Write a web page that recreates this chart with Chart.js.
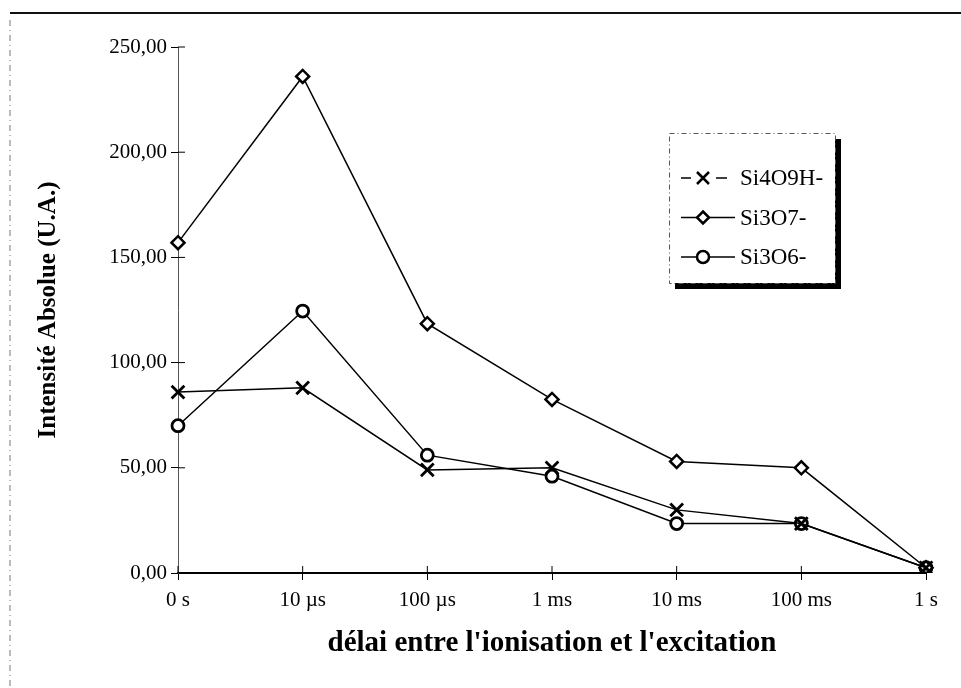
<!DOCTYPE html>
<html>
<head>
<meta charset="utf-8">
<script src="https://cdn.jsdelivr.net/npm/chart.js@4"></script>
<style>
  html, body { margin: 0; padding: 0; background: #fff; }
  #wrap { width: 961px; height: 688px; position: relative; }
</style>
</head>
<body>
<div id="wrap"><canvas id="delayChart" width="961" height="688"></canvas></div>
<script>
// values
var categories = ['0 s', '10 µs', '100 µs', '1 ms', '10 ms', '100 ms', '1 s'];
var si4o9h = [86, 88, 49, 50, 30, 23.5, 2.5];
var si3o7 = [157, 236, 118.5, 82.5, 53, 50, 2.5];
var si3o6 = [70, 124.5, 56, 46, 23.5, 23.5, 2.5];
var seriesNames = ['Si4O9H-', 'Si3O7-', 'Si3O6-'];
var yTicks = [0, 50, 100, 150, 200, 250];

var serif = '"Liberation Serif", "DejaVu Serif", serif';

// frame around the figure (top rule + dashed left edge)
var framePlugin = {
    id: 'frame',
    beforeDraw: function (chart) {
        var ctx = chart.ctx;
        ctx.save();
        ctx.strokeStyle = '#111';
        ctx.lineWidth = 2;
        ctx.beginPath();
        ctx.moveTo(10, 13);
        ctx.lineTo(961, 13);
        ctx.stroke();
        ctx.lineWidth = 1;
        ctx.strokeStyle = '#777';
        ctx.setLineDash([6, 4, 1, 4]);
        ctx.beginPath();
        ctx.moveTo(10, 20);
        ctx.lineTo(10, 688);
        ctx.stroke();
        ctx.restore();
    }
};

// tick marks that also poke inside the plot area
var innerTicks = {
    id: 'innerTicks',
    afterDraw: function (chart) {
        var ctx = chart.ctx;
        var area = chart.chartArea;
        var xs = chart.scales.x, ys = chart.scales.y;
        ctx.save();
        ctx.strokeStyle = '#000';
        ctx.lineWidth = 1;
        ctx.beginPath();
        ys.ticks.forEach(function (t, i) {
            var py = ys.getPixelForTick(i);
            ctx.moveTo(area.left, py);
            ctx.lineTo(area.left + 7, py);
        });
        xs.ticks.forEach(function (t, i) {
            var px = xs.getPixelForTick(i);
            ctx.moveTo(px, area.bottom);
            ctx.lineTo(px, area.bottom - 7);
        });
        ctx.stroke();
        ctx.restore();
    }
};

function marker(ctx, style, x, y) {
    ctx.beginPath();
    if (style === 'crossRot') {
        ctx.lineWidth = 2.5;
        ctx.moveTo(x - 6, y - 6); ctx.lineTo(x + 6, y + 6);
        ctx.moveTo(x + 6, y - 6); ctx.lineTo(x - 6, y + 6);
        ctx.stroke();
    } else if (style === 'rectRot') {
        ctx.lineWidth = 2.5;
        ctx.moveTo(x, y - 6); ctx.lineTo(x + 6, y); ctx.lineTo(x, y + 6); ctx.lineTo(x - 6, y);
        ctx.closePath();
        ctx.fill(); ctx.stroke();
    } else {
        ctx.lineWidth = 2.5;
        ctx.arc(x, y, 6, 0, Math.PI * 2);
        ctx.fill(); ctx.stroke();
    }
}

// boxed legend with a drop shadow
var boxLegend = {
    id: 'boxLegend',
    afterDraw: function (chart) {
        var ctx = chart.ctx;
        var bx = 669, by = 133, bw = 166, bh = 150;
        ctx.save();
        ctx.fillStyle = '#000';
        ctx.fillRect(bx + 6, by + 6, bw, bh);
        ctx.fillStyle = '#fff';
        ctx.fillRect(bx, by, bw, bh);
        ctx.strokeStyle = '#555';
        ctx.lineWidth = 1;
        ctx.setLineDash([5, 3, 1, 3]);
        ctx.strokeRect(bx + 0.5, by + 0.5, bw, bh);
        ctx.setLineDash([]);
        ctx.font = '23px ' + serif;
        ctx.textBaseline = 'middle';
        chart.data.datasets.forEach(function (ds, i) {
            var y = 178 + i * 39.5;
            ctx.strokeStyle = '#000';
            ctx.fillStyle = '#fff';
            ctx.lineWidth = 1.5;
            ctx.beginPath();
            if (ds.pointStyle === 'crossRot') {
                ctx.moveTo(681, y); ctx.lineTo(691, y);
                ctx.moveTo(716, y); ctx.lineTo(727, y);
            } else {
                ctx.moveTo(681, y); ctx.lineTo(735, y);
            }
            ctx.stroke();
            marker(ctx, ds.pointStyle, 703, y);
            ctx.fillStyle = '#000';
            ctx.fillText(ds.label, 740, y + 1);
        });
        ctx.restore();
    }
};

function makeSet(label, values, style, radius, width) {
    return {
        label: label,
        data: values,
        borderColor: '#000',
        borderWidth: 1.5,
        backgroundColor: '#fff',
        pointStyle: style,
        pointRadius: radius,
        pointBorderWidth: width,
        pointBorderColor: '#000',
        pointBackgroundColor: '#fff',
        tension: 0,
        fill: false
    };
}

var ctx = document.getElementById('delayChart').getContext('2d');
var delayChart = new Chart(ctx, {
    type: 'line',
    data: {
        labels: categories,
        datasets: [
            makeSet(seriesNames[0], si4o9h, 'crossRot', 9, 2.8),
            makeSet(seriesNames[1], si3o7, 'rectRot', 6.5, 2.5),
            makeSet(seriesNames[2], si3o6, 'circle', 6, 2.8)
        ]
    },
    options: {
        responsive: false,
        animation: false,
        layout: { padding: { left: 30, right: 35, top: 47, bottom: 25 } },
        plugins: {
            legend: { display: false },
            tooltip: { enabled: false }
        },
        scales: {
            x: {
                type: 'category',
                offset: false,
                grid: { drawOnChartArea: false, drawTicks: true, tickLength: 7, color: '#000' },
                border: { color: '#000', width: 2 },
                ticks: { color: '#000', padding: 8, maxRotation: 0, font: { family: serif, size: 21 } },
                title: {
                    display: true,
                    text: "délai entre l'ionisation et l'excitation",
                    color: '#000',
                    padding: { top: 4, bottom: 2 },
                    font: { family: serif, size: 29, weight: 'bold' }
                },
                afterFit: function (scale) { scale.height = 90; }
            },
            y: {
                min: 0,
                max: 250,
                afterBuildTicks: function (scale) {
                    scale.ticks = yTicks.map(function (v) { return { value: v }; });
                },
                grid: { drawOnChartArea: false, drawTicks: true, tickLength: 7, color: '#000' },
                border: { color: '#555', width: 1, dash: [6, 3, 1, 3] },
                ticks: {
                    color: '#000',
                    padding: 4,
                    font: { family: serif, size: 21 },
                    callback: function (v) { return Number(v).toFixed(2).replace('.', ','); }
                },
                title: {
                    display: true,
                    text: 'Intensité Absolue (U.A.)',
                    color: '#000',
                    padding: { top: 4, bottom: 4 },
                    font: { family: serif, size: 25, weight: 'bold' }
                },
                afterFit: function (scale) { scale.width = 148; }
            }
        }
    },
    plugins: [framePlugin, innerTicks, boxLegend]
});
</script>
</body>
</html>
